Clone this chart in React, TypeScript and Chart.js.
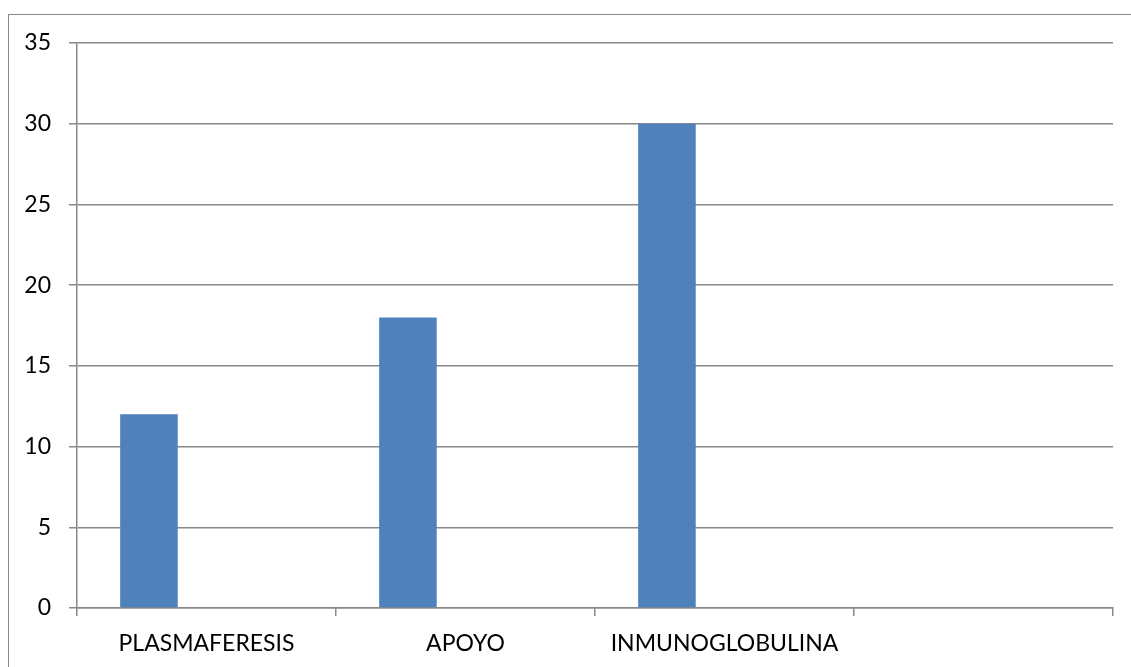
import React, { useEffect, useRef } from "react";
import { Chart, registerables } from "chart.js";

Chart.register(...registerables);

// Treatment categories (the last slot is an empty category)
const categories: string[] = ["PLASMAFERESIS", "APOYO", "INMUNOGLOBULINA", ""];
// Series values: only the first series carries data
const serie1: (number | null)[] = [12, 18, 30, null];
const serie2: (number | null)[] = [null, null, null, null];
const serie3: (number | null)[] = [null, null, null, null];
// Value axis range
const yMin = 0;
const yMax = 35;
const yStep = 5;

const BAR_COLOR = "#4F81BD";
const LINE_COLOR = "#888888";
const FONT_FAMILY = "Lato, 'Noto Sans', sans-serif";

export default function App() {
  const canvasRef = useRef<HTMLCanvasElement | null>(null);

  useEffect(() => {
    const canvas = canvasRef.current;
    if (!canvas) return;
    const chart = new Chart(canvas, {
      type: "bar",
      data: {
        labels: categories,
        datasets: [
          { label: "Serie 1", data: serie1, backgroundColor: BAR_COLOR, borderWidth: 0 },
          { label: "Serie 2", data: serie2, backgroundColor: BAR_COLOR, borderWidth: 0 },
          { label: "Serie 3", data: serie3, backgroundColor: BAR_COLOR, borderWidth: 0 },
        ],
      },
      options: {
        responsive: false,
        animation: false,
        layout: { padding: { left: 0, right: 18, top: 43, bottom: 0 } },
        datasets: {
          bar: { categoryPercentage: 3 / 4.5, barPercentage: 1 },
        },
        plugins: {
          legend: { display: false },
          tooltip: { enabled: false },
          title: { display: false },
        },
        scales: {
          x: {
            offset: true,
            grid: {
              offset: true,
              drawOnChartArea: false,
              drawTicks: true,
              tickLength: 8,
              color: LINE_COLOR,
              lineWidth: 1.5,
            },
            border: { display: true, color: LINE_COLOR, width: 1.5 },
            ticks: {
              color: "#000",
              padding: 14,
              maxRotation: 0,
              autoSkip: false,
              font: { family: FONT_FAMILY, size: 23 },
            },
            afterFit: (scale: any) => {
              scale.height = 59;
            },
          },
          y: {
            min: yMin,
            max: yMax,
            grid: {
              color: LINE_COLOR,
              lineWidth: 1.5,
              drawTicks: true,
              tickLength: 8,
            },
            border: { display: true, color: LINE_COLOR, width: 1.5 },
            ticks: {
              stepSize: yStep,
              color: "#000",
              padding: 18,
              font: { family: FONT_FAMILY, size: 23 },
            },
            afterFit: (scale: any) => {
              scale.width = 77;
            },
          },
        },
      },
    });
    return () => chart.destroy();
  }, []);

  return (
    <div
      style={{
        position: "fixed",
        left: 0,
        top: 0,
        width: 1131,
        height: 667,
        overflow: "hidden",
        background: "#fff",
      }}
    >
      <div
        style={{
          position: "absolute",
          left: 8,
          top: 14,
          width: 1200,
          height: 800,
          border: "1.5px solid #888",
          boxSizing: "border-box",
        }}
      />
      <canvas
        ref={canvasRef}
        width={1131}
        height={667}
        style={{ position: "absolute", left: 0, top: 0 }}
      />
    </div>
  );
}
